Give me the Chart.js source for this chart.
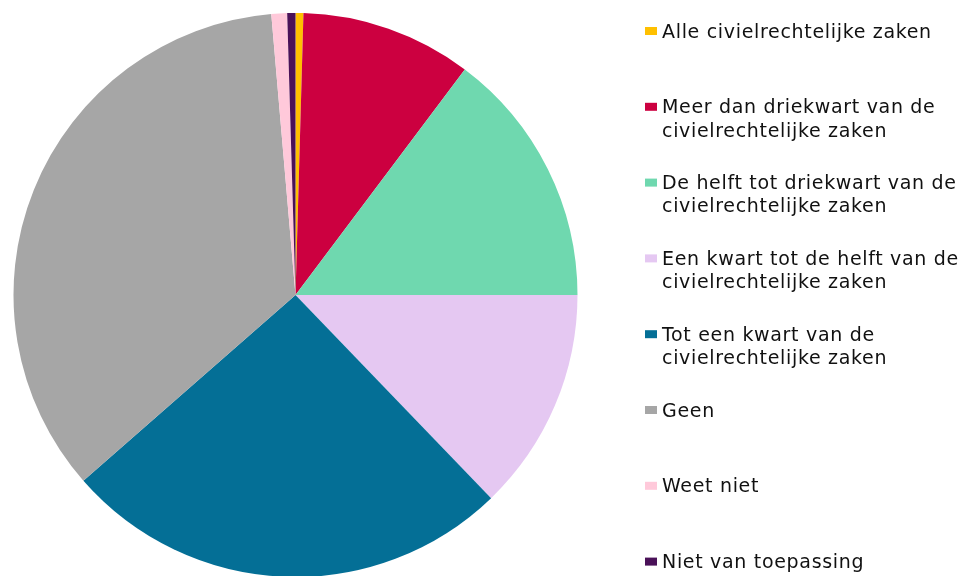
<!DOCTYPE html>
<html>
<head>
<meta charset="utf-8">
<script src="https://cdn.jsdelivr.net/npm/chart.js@4.4.1/dist/chart.umd.min.js"></script>
<style>
  html, body { margin: 0; padding: 0; background: #fff; overflow: hidden; }
  #wrap { position: relative; width: 964px; height: 600px; }
</style>
</head>
<body>
<div id="wrap"><canvas id="chart" width="964" height="600"></canvas></div>
<script>
// answer categories, split into the lines shown in the legend
const labels = [
  ['Alle civielrechtelijke zaken'],
  ['Meer dan driekwart van de', 'civielrechtelijke zaken'],
  ['De helft tot driekwart van de', 'civielrechtelijke zaken'],
  ['Een kwart tot de helft van de', 'civielrechtelijke zaken'],
  ['Tot een kwart van de', 'civielrechtelijke zaken'],
  ['Geen'],
  ['Weet niet'],
  ['Niet van toepassing']
];

// share of respondents per category (%)
const shares = [0.45, 9.8, 14.75, 12.8, 25.75, 35.08, 0.9, 0.47];

const colors = ['#FFC000', '#CC0040', '#6FD8AF', '#E5C8F2', '#046F96', '#A6A6A6', '#FFC9DA', '#4A1158'];

// legend drawn by hand so the two-line entries and spacing come out right
const sideLegend = {
  id: 'sideLegend',
  afterDraw(chart) {
    const ctx = chart.ctx;
    const ds = chart.data.datasets[0];
    ctx.save();
    ctx.font = '19px "DejaVu Sans"';
    ctx.letterSpacing = '0.68px';
    ctx.textBaseline = 'alphabetic';
    chart.data.labels.forEach((lines, i) => {
      const top = 27 + i * 75.8;
      ctx.fillStyle = ds.backgroundColor[i];
      ctx.fillRect(645, top, 12, 8);
      ctx.fillStyle = '#111';
      lines.forEach((ln, j) => {
        ctx.fillText(ln, 662, top + 10.5 + j * 23.3);
      });
    });
    ctx.restore();
  }
};

new Chart(document.getElementById('chart'), {
  type: 'pie',
  data: {
    labels: labels,
    datasets: [{
      data: shares,
      backgroundColor: colors,
      borderWidth: 0
    }]
  },
  options: {
    responsive: false,
    animation: false,
    layout: { padding: { left: 13.5, right: 386.5, top: 13, bottom: 23 } },
    plugins: {
      legend: { display: false },
      tooltip: { enabled: false }
    }
  },
  plugins: [sideLegend]
});
</script>
</body>
</html>
